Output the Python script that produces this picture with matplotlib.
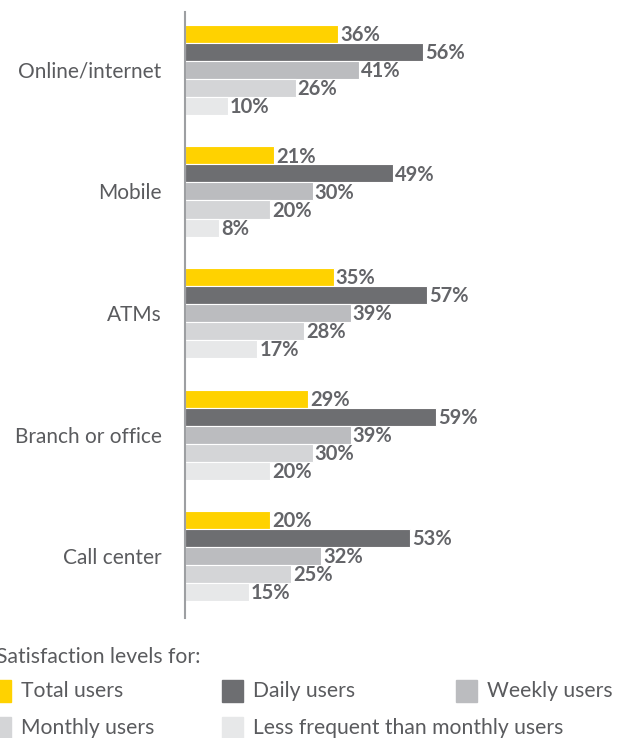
import matplotlib.pyplot as plt
from matplotlib.patches import Rectangle

# data
channels = ["Online/internet", "Mobile", "ATMs", "Branch or office", "Call center"]
series = ["Total users", "Daily users", "Weekly users", "Monthly users",
          "Less frequent than monthly users"]
total_users = [36, 21, 35, 29, 20]
daily_users = [56, 49, 57, 59, 53]
weekly_users = [41, 30, 39, 39, 32]
monthly_users = [26, 20, 28, 30, 25]
less_frequent = [10, 8, 17, 20, 15]

colors = ["#FFD200", "#6D6E71", "#BBBCBF", "#D4D5D7", "#E7E8E9"]
values = [total_users, daily_users, weekly_users, monthly_users, less_frequent]

plt.rcParams['font.family'] = ['Lato', 'DejaVu Sans']

W, H = 624, 738
fig = plt.figure(figsize=(W / 100, H / 100), dpi=100)
# axes placed in pixel terms: y-axis line at x=185, from y=12 to y=618
ax = fig.add_axes([185 / W, 1 - 618 / H, 1 - 185 / W, 606 / H])

group_step = 6.75
centers = [i * group_step for i in range(len(channels))]
for j, (vals, col) in enumerate(zip(values, colors)):
    ys = [c + (j - 2) for c in centers]
    ax.barh(ys, vals, height=1.0, color=col, edgecolor="white", linewidth=0.8)
    for y, v in zip(ys, vals):
        ax.annotate(f"{v}%", (v, y), xytext=(1.5, -1), textcoords="offset points",
                    va="center", ha="left", fontsize=14.5, fontweight="bold",
                    color="#646569")

ax.set_xlim(0, (W - 185) / 4.25)
ax.set_ylim(centers[-1] + 3.44, -3.22)
ax.set_yticks(centers)
ax.set_yticklabels(channels, fontsize=15, color="#5A5B5E")
ax.tick_params(axis="y", length=0, pad=17)
ax.set_xticks([])
for s in ["top", "right", "bottom"]:
    ax.spines[s].set_visible(False)
ax.spines["left"].set_color("#9D9FA2")
ax.spines["left"].set_linewidth(1.5)

# legend drawn by hand in pixel coordinates to keep the reference's grid
def px(x, y):
    return x / W, 1 - y / H

fig.text(*px(-4, 657), "Satisfaction levels for:", fontsize=15.2, color="#5A5B5E",
         va="center", ha="left")
slots = [(-10, 691), (222, 691), (456, 691), (-10, 728), (222, 728)]
for (x, y), name, col in zip(slots, series, colors):
    fig.patches.append(Rectangle(px(x, y + 11), 21 / W, 22 / H, color=col,
                                 transform=fig.transFigure, figure=fig))
    fig.text(*px(x + 31, y), name, fontsize=15.2,
             color="#5A5B5E", va="center", ha="left")

fig.savefig("out.png", dpi=100)
